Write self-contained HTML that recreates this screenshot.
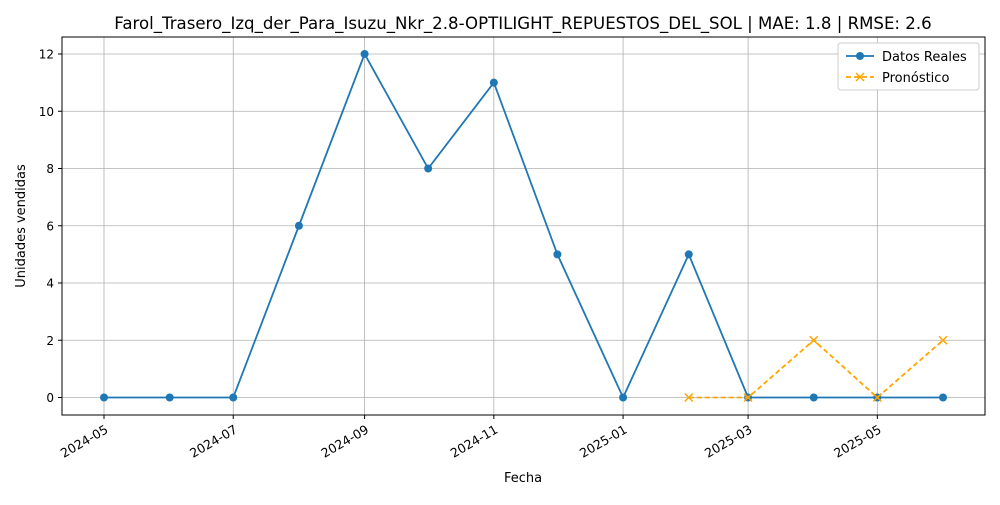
<!DOCTYPE html>
<html><head><meta charset="utf-8"><style>
body{margin:0;background:#fff;font-family:"Liberation Sans","DejaVu Sans",sans-serif}
</style></head><body>
<svg id="chart" width="1000" height="500" xmlns="http://www.w3.org/2000/svg" font-family="DejaVu Sans, Liberation Sans, sans-serif">
<rect width="1000" height="500" fill="#fff"/>
<text x="523" y="29" text-anchor="middle" font-size="16.6">Farol_Trasero_Izq_der_Para_Isuzu_Nkr_2.8-OPTILIGHT_REPUESTOS_DEL_SOL | MAE: 1.8 | RMSE: 2.6</text>
<g id="grid"></g><g id="axes"></g><g id="series"></g>
<rect x="62" y="37" width="923" height="378" fill="none" stroke="#000" stroke-width="1"/>
<text x="523" y="482" text-anchor="middle" font-size="13">Fecha</text>
<text transform="translate(25,226) rotate(-90)" text-anchor="middle" font-size="13">Unidades vendidas</text>
<g>
<rect x="838" y="43" width="141" height="47" rx="3" fill="#fff" stroke="#ccc"/>
<g>
<line x1="846" y1="56" x2="874" y2="56" stroke="#1f77b4" stroke-width="1.8"/><circle cx="860" cy="56" r="4" fill="#1f77b4"/>
<text x="882" y="61" font-size="13">Datos Reales</text></g>
<g>
<line x1="846" y1="77" x2="874" y2="77" stroke="orange" stroke-width="1.8" stroke-dasharray="5,3"/>
<path d="M856,73 l8,8 M864,73 l-8,8" stroke="orange" stroke-width="1.5"/>
<text x="882" y="82" font-size="13">Pronóstico</text></g>
</g>
</svg>
<script>
const realDates=["2024-05-01","2024-06-01","2024-07-01","2024-08-01","2024-09-01","2024-10-01","2024-11-01","2024-12-01","2025-01-01","2025-02-01","2025-03-01","2025-04-01","2025-05-01","2025-06-01"];
const realValues=[0,0,0,6,12,8,11,5,0,5,0,0,0,0];
const fcDates=["2025-02-01","2025-03-01","2025-04-01","2025-05-01","2025-06-01"];
const fcValues=[0,0,2,0,2];
const xTicks=["2024-05","2024-07","2024-09","2024-11","2025-01","2025-03","2025-05"];
const yTicks=[0,2,4,6,8,10,12];
const NS="http://www.w3.org/2000/svg";
const t0=Date.parse("2024-05-01");
function X(d){return 104+(Date.parse(d.length==7?d+"-01":d)-t0)/86400000*2.1187;}
function Y(v){return 397.5-v*28.625;}
function mk(tag,attrs,parent){const e=document.createElementNS(NS,tag);for(const k in attrs)e.setAttribute(k,attrs[k]);document.getElementById(parent).appendChild(e);return e;}
xTicks.forEach(t=>{const x=X(t);
const g=mk("line",{x1:x,x2:x,y1:37,y2:415,stroke:"#b0b0b0","stroke-width":0.8},"grid");


mk("line",{x1:x,x2:x,y1:415,y2:419,stroke:"#000"},"axes");
const lx=x+5,ly=432;
const tx=mk("text",{x:lx,y:ly,"font-size":12.5,"text-anchor":"end",transform:`rotate(-30 ${lx} ${ly})`},"axes");
tx.textContent=t;


});
yTicks.forEach(v=>{const y=Y(v);
const g=mk("line",{x1:62,x2:985,y1:y,y2:y,stroke:"#b0b0b0","stroke-width":0.8},"grid");


mk("line",{x1:58,x2:62,y1:y,y2:y,stroke:"#000"},"axes");
const tx=mk("text",{x:54,y:y+4.5,"font-size":12,"text-anchor":"end"},"axes");
tx.textContent=v;


});
const rp=mk("polyline",{points:realDates.map((d,i)=>X(d)+","+Y(realValues[i])).join(" "),fill:"none",stroke:"#1f77b4","stroke-width":1.8},"series");


realDates.forEach((d,i)=>{const c=mk("circle",{cx:X(d),cy:Y(realValues[i]),r:4,fill:"#1f77b4"},"series");

});
const fp=mk("polyline",{points:fcDates.map((d,i)=>X(d)+","+Y(fcValues[i])).join(" "),fill:"none",stroke:"orange","stroke-width":1.8,"stroke-dasharray":"5,3"},"series");


fcDates.forEach((d,i)=>{const x=X(d),y=Y(fcValues[i]);
const m=mk("path",{d:`M${x-4},${y-4} l8,8 M${x+4},${y-4} l-8,8`,stroke:"orange","stroke-width":1.5},"series");

});
</script>
</body></html>
